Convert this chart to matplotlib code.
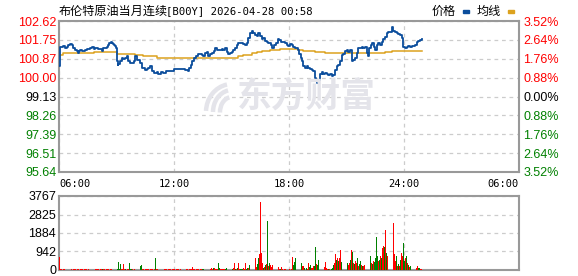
import matplotlib
matplotlib.use("Agg")
import matplotlib.pyplot as plt
from matplotlib.patches import Arc
import numpy as np

# ---------------- data ----------------
title_cn = "布伦特原油当月连续"
title_latin = "[B00Y] 2026-04-28 00:58"
legend_price = "价格"
legend_avg = "均线"
watermark = "东方财富"

y_ticks = [95.64, 96.51, 97.39, 98.26, 99.13, 100.00, 100.87, 101.75, 102.62]
y_tick_labels = ["95.64", "96.51", "97.39", "98.26", "99.13", "100.00", "100.87", "101.75", "102.62"]
pct_labels = ["3.52%", "2.64%", "1.76%", "0.88%", "0.00%", "0.88%", "1.76%", "2.64%", "3.52%"]
x_ticks = [0, 360, 720, 1080, 1440]
x_tick_labels = ["06:00", "12:00", "18:00", "24:00", "06:00"]
vol_ticks = [0, 942, 1884, 2825, 3767]
vol_tick_labels = ["0", "942", "1884", "2825", "3767"]

# price line: minutes since 06:00 and price
price_t = [0, 2, 8, 14, 19, 24, 29, 34, 40, 45, 50, 55, 58, 62, 66, 71, 76, 82, 87, 92, 97, 102, 108, 113,
           118, 123, 128, 134, 139, 144, 149, 154, 157, 162, 165, 168, 173, 175, 178, 181, 184, 186, 191,
           196, 201, 207, 212, 217, 222, 230, 235, 238, 243, 248, 254, 259, 264, 269, 274, 280, 285,
           290, 298, 306, 311, 319, 327, 334, 342, 353, 361, 374, 384, 394, 403, 408, 413, 417, 424, 428,
           434, 441, 447, 452, 457, 462, 467, 473, 478, 485, 488, 494, 501, 509, 514, 520, 525, 530, 535,
           541, 546, 551, 556, 561, 567, 577, 582, 587, 593, 598, 603, 608, 614, 619, 624, 629, 634, 640,
           645, 650, 655, 664, 668, 674, 679, 685, 690, 695, 702, 707, 713, 718, 723, 728, 734, 739, 744,
           749, 752, 756, 760, 765, 770, 775, 780, 786, 791, 796, 801, 804, 809, 812, 817, 822, 827, 833,
           838, 843, 848, 854, 859, 864, 869, 874, 880, 885, 890, 895, 901, 906, 911, 916, 921, 927, 932,
           937, 942, 947, 953, 958, 963, 966, 971, 976, 981, 986, 989, 994, 1000, 1005, 1010, 1015, 1021,
           1026, 1031, 1036, 1041, 1047, 1052, 1057, 1062, 1067, 1073, 1078, 1083, 1088, 1093, 1099, 1104,
           1109, 1114, 1120, 1125, 1130, 1135, 1137]
price_v = [100.52, 101.44, 101.44, 101.48, 101.39, 101.44, 101.51, 101.55, 101.51, 101.39, 101.28, 101.24,
           101.13, 101.24, 101.28, 101.24, 101.25, 101.30, 101.32, 101.33, 101.36, 101.41, 101.32, 101.35,
           101.36, 101.33, 101.32, 101.24, 101.36, 101.39, 101.44, 101.51, 101.59, 101.64, 101.58, 101.55,
           101.51, 101.48, 101.36, 100.75, 100.59, 100.62, 100.75, 100.93, 100.87, 100.93, 100.98, 100.75,
           100.70, 100.67, 100.75, 100.98, 100.82, 100.82, 100.67, 100.47, 100.44, 100.36, 100.41, 100.47,
           100.52, 100.29, 100.21, 100.26, 100.18, 100.26, 100.21, 100.29, 100.32, 100.32, 100.39, 100.39,
           100.39, 100.36, 100.32, 100.44, 100.59, 100.75, 100.93, 100.98, 101.09, 101.09, 101.05, 100.98,
           101.13, 101.21, 100.98, 101.09, 101.13, 101.24, 101.39, 101.28, 101.28, 101.33, 101.28, 101.36,
           101.21, 101.09, 101.13, 101.21, 101.28, 101.39, 101.51, 101.59, 101.62, 101.55, 101.51, 101.59,
           101.82, 102.05, 102.16, 102.05, 101.97, 101.94, 102.05, 101.94, 101.79, 101.82, 101.70, 101.64,
           101.59, 101.51, 101.36, 101.51, 101.59, 101.79, 101.75, 101.67, 101.64, 101.59, 101.51, 101.48,
           101.55, 101.51, 101.44, 101.36, 101.39, 101.28, 101.09, 100.90, 100.75, 100.52, 100.44, 100.56,
           100.47, 100.41, 100.36, 100.29, 99.98, 99.83, 99.75, 99.90, 100.16, 100.26, 100.16, 100.21,
           100.16, 100.13, 100.16, 100.10, 100.13, 100.36, 100.52, 100.59, 100.75, 101.05, 101.09, 101.24,
           101.28, 101.21, 101.28, 100.75, 100.82, 100.93, 101.13, 101.36, 101.39, 101.44, 101.36, 101.44,
           101.13, 100.98, 101.36, 101.51, 101.59, 101.44, 101.28, 101.51, 101.59, 101.51, 101.67, 101.79,
           101.90, 102.05, 102.13, 102.10, 102.36, 102.16, 102.13, 102.05, 102.01, 101.97, 101.82, 101.44,
           101.36, 101.44, 101.48, 101.44, 101.48, 101.47, 101.51, 101.67, 101.70, 101.75, 101.79, 101.79]

# average line (step changes)
avg_t = [0, 14, 108, 181, 238, 264, 306, 321, 561, 577, 603, 619, 634, 660, 692, 749, 765, 801, 833,
         1021, 1041, 1137]
avg_v = [101.07, 101.13, 101.18, 101.09, 101.05, 100.98, 100.93, 100.90, 100.98, 101.05, 101.13, 101.18,
         101.25, 101.28, 101.31, 101.28, 101.25, 101.21, 101.13, 101.18, 101.24, 101.24]

# volume per 3-minute slot from 06:00, and colour (r = up, g = down)
vol = [
    650, 30, 30, 25, 30, 30, 25, 30, 30, 30, 25, 30, 30, 30, 25, 30, 30, 30, 25, 30,
    30, 25, 30, 30, 30, 25, 30, 30, 30, 25, 30, 30, 30, 25, 30, 30, 30, 25, 30, 30,
    30, 30, 25, 30, 30, 70, 30, 30, 25, 30, 30, 30, 25, 30, 30, 30, 25, 30, 40, 387,
    1162, 40, 387, 40, 300, 30, 30, 300, 30, 30, 25, 30, 30, 335, 70, 30, 30, 25, 30, 30,
    30, 30, 25, 30, 30, 210, 260, 30, 30, 25, 70, 30, 30, 30, 25, 30, 30, 30, 25, 30,
    600, 30, 30, 25, 30, 30, 30, 50, 30, 25, 30, 30, 30, 25, 30, 30, 30, 25, 30, 30,
    30, 25, 30, 30, 30, 25, 30, 30, 30, 25, 30, 30, 30, 70, 30, 25, 30, 30, 30, 160,
    30, 30, 25, 30, 30, 30, 25, 30, 30, 70, 30, 70, 30, 25, 30, 30, 30, 25, 30, 120,
    30, 120, 120, 30, 30, 30, 335, 90, 30, 70, 30, 30, 40, 30, 90, 30, 120, 40, 60, 50,
    60, 40, 80, 366, 60, 35, 90, 366, 50, 70, 40, 70, 105, 60, 366, 40, 105, 80, 279, 924,
    1064, 715, 400, 314, 200, 593, 140, 300, 628, 802, 3470, 890, 366, 105, 150, 244, 314, 2494, 200, 366,
    279, 150, 244, 70, 192, 60, 20, 40, 105, 140, 30, 70, 140, 30, 20, 30, 52, 25, 20, 20,
    30, 20, 60, 680, 250, 419, 628, 300, 715, 350, 192, 663, 541, 366, 200, 192, 80, 20, 105, 60,
    366, 150, 279, 120, 105, 192, 200, 1151, 314, 250, 506, 244, 192, 120, 105, 60, 52, 150, 401, 105,
    60, 35, 40, 20, 60, 105, 244, 350, 802, 500, 628, 453, 600, 1029, 400, 802, 350, 453, 977, 541,
    450, 366, 250, 366, 500, 1011, 924, 366, 300, 453, 350, 628, 192, 300, 453, 250, 192, 200, 279, 628,
    541, 350, 942, 715, 400, 715, 366, 300, 453, 400, 628, 1674, 715, 453, 500, 715, 600, 1116, 1238, 1151,
    2023, 890, 700, 628, 715, 1011, 715, 1500, 1064, 2372, 802, 453, 715, 192, 300, 192, 500, 890, 715, 1360,
    453, 600, 715, 366, 250, 140, 192, 100, 314, 150, 366, 366, 244, 105, 192, 80, 105, 70, 40, 20,
]
vol_dir = (
    "rrrrrrrrrrrrrrrrrrrr"
    "rrrrrrrrrrrrrrrrrrrr"
    "rrrrrgrrrrrrrrrgggrg"
    "gggggrrrrggrrgggrrrr"
    "rrrrrggrrrrrrrrrrrrr"
    "grrrrrrrrrrrrrrrrrrr"
    "rrrrrrrrrrrrrrrrrrrr"
    "rrrrrrrrrgggrrrrrrrr"
    "rgrrrrggrrrrrgggggrr"
    "rgrrgrgrrgggrrrggrgr"
    "rrrrrrrggrrrrgrgrgrg"
    "rrrgrrgggrrgrrgrrrgr"
    "rgrrgggrrgggrgrrgggr"
    "rggrrrggrggrrggrrrrr"
    "rgrggggrrgrgrrggrrrr"
    "rgrrgrgrgrrgrggrgrrr"
    "grgrggrgrggggrgrgrrg"
    "rgrrrgrggrrrgrgrgrrg"
    "grgrgrgrgrrggrrggrrr"
)
vol_step = 3

# ---------------- styling ----------------
W, H = 578, 276
fig = plt.figure(figsize=(W / 100, H / 100), dpi=100)
fig.patch.set_facecolor("white")

def px_axes(left, top, right, bottom):
    return fig.add_axes([left / W, 1 - bottom / H, (right - left) / W, (bottom - top) / H])

RED = "#ff0000"
GREEN = "#008000"
BLACK = "#000000"
FRAME = "#999999"
GRID = "#cccccc"
PRICE_C = "#0b4d9c"
AVG_C = "#dca21e"
WM = "#e4e4ea"
label_font = "Liberation Sans"
mono_font = "DejaVu Sans Mono"

ax = px_axes(59, 21, 519, 172)
axv = px_axes(59, 196, 519, 270)

for a in (ax, axv):
    for s in a.spines.values():
        s.set_color(FRAME)
        s.set_linewidth(1.5)
    a.set_xlim(0, 1440)
    a.tick_params(length=0)
    a.set_facecolor("white")

# watermark (logo strokes + text), placed in figure pixel coordinates
fig.text(237 / W, 1 - 96 / H, watermark, ha="left", va="center",
         fontsize=25, fontweight="bold", color=WM, family=["Noto Sans CJK SC"], zorder=0)
px2fig = lambda x, y: (x / W, 1 - y / H)
for (cx, cy, w, h, t1, t2) in [(232, 112, 52, 56, 95, 175), (232, 112, 38, 44, 95, 180),
                               (232, 112, 24, 30, 95, 185)]:
    arc = Arc(px2fig(cx, cy), w / W, h / H, theta1=t1, theta2=t2, transform=fig.transFigure,
              color=WM, lw=3.2, zorder=0)
    fig.patches.append(arc)

# main chart
ax.set_ylim(95.64, 102.62)
ax.set_yticks(y_ticks)
ax.set_yticklabels(y_tick_labels, family=label_font, fontsize=9)
ax.set_xticks(x_ticks)
ax.set_xticklabels(x_tick_labels, family=mono_font, fontsize=7.5)
xl = ax.get_xticklabels()
xl[0].set_ha("left")
xl[-1].set_ha("right")
ax.tick_params(axis="x", pad=5)
ax.tick_params(axis="y", pad=2)
for lbl, v in zip(ax.get_yticklabels(), y_ticks):
    lbl.set_color(RED if v > 99.2 else (BLACK if abs(v - 99.13) < 0.01 else GREEN))
ax.grid(True, color=GRID, linestyle=(0, (3, 3)), linewidth=0.9)
ax.set_axisbelow(True)
ax.patch.set_alpha(0)

ax.plot(avg_t, avg_v, color=AVG_C, lw=1.1, drawstyle="steps-post", zorder=3)
ax.plot(price_t, price_v, color=PRICE_C, lw=1.3, drawstyle="steps-post", zorder=4)

axr = ax.twinx()
axr.set_ylim(95.64, 102.62)
axr.set_yticks(y_ticks)
axr.set_yticklabels(pct_labels[::-1], family=label_font, fontsize=9)
axr.tick_params(length=0, pad=3)
for s in axr.spines.values():
    s.set_visible(False)
for lbl, v in zip(axr.get_yticklabels(), y_ticks):
    lbl.set_color(RED if v > 99.2 else (BLACK if abs(v - 99.13) < 0.01 else GREEN))

# volume
vol_x = np.arange(len(vol)) * vol_step
colors = [RED if c == "r" else GREEN for c in vol_dir]
axv.bar(vol_x, vol, width=vol_step * 0.8, align="edge", color=colors, linewidth=0, zorder=3)
axv.set_ylim(0, 3767)
axv.set_yticks(vol_ticks)
axv.set_yticklabels(vol_tick_labels, family=label_font, fontsize=9)
axv.tick_params(axis="y", pad=2)
axv.set_xticks([360, 720, 1080])
axv.set_xticklabels([])
axv.grid(True, color=GRID, linestyle=(0, (3, 3)), linewidth=0.9)
axv.set_axisbelow(True)

# title
fig.text(59 / W, 1 - 11 / H, title_cn, family=["Noto Sans CJK SC"], fontsize=8.7,
         ha="left", va="center")
fig.text(166 / W, 1 - 11 / H, title_latin, family=mono_font, fontsize=7.7,
         ha="left", va="center")

# legend
fig.text(432 / W, 1 - 11 / H, legend_price, family=["Noto Sans CJK SC"], fontsize=8.7,
         ha="left", va="center")
fig.text(477 / W, 1 - 11 / H, legend_avg, family=["Noto Sans CJK SC"], fontsize=8.7,
         ha="left", va="center")
fig.patches.append(plt.Rectangle((463 / W, 1 - 13 / H), 6 / W, 3 / H, transform=fig.transFigure,
                                 color=PRICE_C, figure=fig))
fig.patches.append(plt.Rectangle((508 / W, 1 - 13 / H), 6 / W, 3 / H, transform=fig.transFigure,
                                 color=AVG_C, figure=fig))

fig.savefig("out.png", dpi=100, facecolor="white")
